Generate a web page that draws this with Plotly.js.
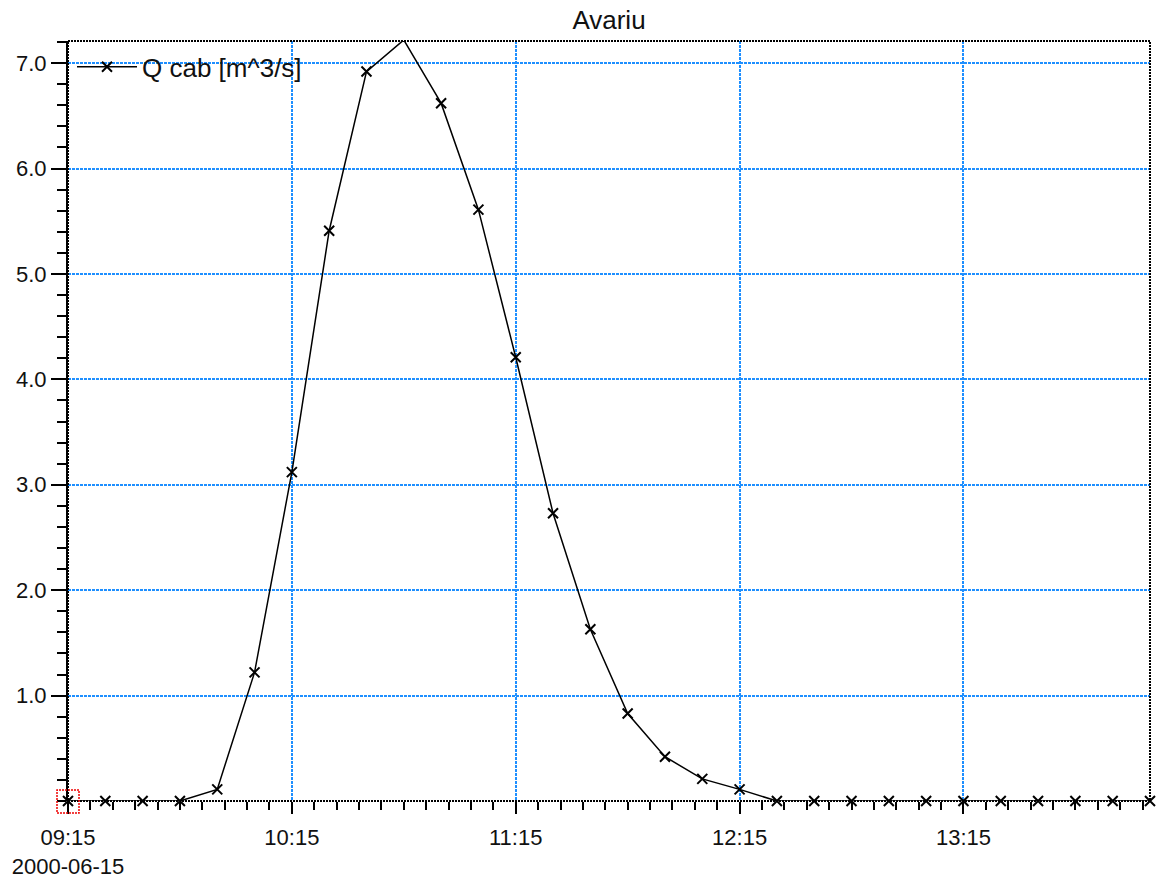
<!DOCTYPE html>
<html>
<head>
<meta charset="utf-8">
<script src="https://cdn.plot.ly/plotly-3.0.1.min.js"></script>
<style>html,body{margin:0;padding:0;background:#fff;}#chart{width:1156px;height:879px;}</style>
</head>
<body>
<div id="chart"></div>
<script>
const times = [
  "2000-06-15 09:15","2000-06-15 09:25","2000-06-15 09:35","2000-06-15 09:45","2000-06-15 09:55",
  "2000-06-15 10:05","2000-06-15 10:15","2000-06-15 10:25","2000-06-15 10:35","2000-06-15 10:45",
  "2000-06-15 10:55","2000-06-15 11:05","2000-06-15 11:15","2000-06-15 11:25","2000-06-15 11:35",
  "2000-06-15 11:45","2000-06-15 11:55","2000-06-15 12:05","2000-06-15 12:15","2000-06-15 12:25",
  "2000-06-15 12:35","2000-06-15 12:45","2000-06-15 12:55","2000-06-15 13:05","2000-06-15 13:15",
  "2000-06-15 13:25","2000-06-15 13:35","2000-06-15 13:45","2000-06-15 13:55","2000-06-15 14:05"
];
const qcab = [
  0, 0, 0, 0, 0.11,
  1.22, 3.12, 5.41, 6.92, 7.22,
  6.62, 5.61, 4.21, 2.73, 1.63,
  0.83, 0.42, 0.21, 0.11, 0,
  0, 0, 0, 0, 0,
  0, 0, 0, 0, 0
];
const xTickVals = ["2000-06-15 09:15","2000-06-15 10:15","2000-06-15 11:15","2000-06-15 12:15","2000-06-15 13:15"];
const xTickText = ["09:15<br>2000-06-15","10:15","11:15","12:15","13:15"];
const yTickVals = [1,2,3,4,5,6,7];
const yTickText = ["1.0","2.0","3.0","4.0","5.0","6.0","7.0"];
const seriesName = "Q cab [m^3/s]";
const chartTitle = "Avariu";

const trace = {
  x: times, y: qcab, type: "scatter", mode: "lines+markers", name: seriesName,
  line: {color: "#000", width: 1.5},
  marker: {symbol: "x-thin", size: 10, color: "#000", line: {color: "#000", width: 2}},
  cliponaxis: false
};

const gridBlue = "#1e8fff";
const layout = {
  width: 1156, height: 879,
  margin: {l: 68, r: 6, t: 41, b: 78},
  paper_bgcolor: "#fff", plot_bgcolor: "#fff",
  font: {family: "Liberation Sans, Arial, sans-serif", color: "#111", size: 22},
  title: {text: chartTitle, x: 0.5, xref: "paper", xanchor: "center", y: 0.977, yref: "container", yanchor: "middle",
          font: {size: 26, color: "#111"}},
  showlegend: true,
  legend: {x: 0.0037, y: 0.997, xanchor: "left", yanchor: "top", bgcolor: "rgba(0,0,0,0)",
           itemwidth: 60, font: {size: 26, color: "#111"}},
  xaxis: {
    type: "date", range: [times[0], times[times.length - 1]],
    tickmode: "array", tickvals: xTickVals, ticktext: xTickText,
    ticks: "outside", ticklen: 12, tickwidth: 2, tickcolor: "#000", ticklabelstandoff: 5,
    showgrid: true, gridcolor: gridBlue, griddash: "3px,1px", gridwidth: 2,
    minor: {tickmode: "linear", tick0: "2000-06-15 09:15", dtick: 360000, ticks: "outside", ticklen: 8, tickwidth: 2, tickcolor: "#000", showgrid: false},
    showline: false, zeroline: false, automargin: false, tickfont: {size: 22, color: "#111"}
  },
  yaxis: {
    range: [0, 7.21],
    tickmode: "array", tickvals: yTickVals, ticktext: yTickText,
    ticks: "outside", ticklen: 15, tickwidth: 2, tickcolor: "#000",
    showgrid: true, gridcolor: gridBlue, griddash: "3px,1px", gridwidth: 2,
    minor: {tickmode: "linear", tick0: 0, dtick: 0.2, ticks: "outside", ticklen: 9, tickwidth: 2, tickcolor: "#000", showgrid: false},
    showline: true, linecolor: "#000", linewidth: 2, mirror: false, zeroline: false, automargin: false,
    tickfont: {size: 22, color: "#111"}
  },
  shapes: [
    {type: "rect", xref: "paper", yref: "paper", x0: 0, x1: 1, y0: 0, y1: 1,
     line: {color: "#000", width: 2, dash: "2px,1px"}, layer: "above"},
    {type: "rect", xref: "paper", yref: "paper", xsizemode: "pixel", ysizemode: "pixel",
     xanchor: 0, yanchor: 0, x0: -11, x1: 11, y0: -12, y1: 11,
     line: {color: "#e00", width: 1.5, dash: "2px,1px"}, layer: "above"}
  ]
};

Plotly.newPlot("chart", [trace], layout, {displayModeBar: false, staticPlot: true});
</script>
</body>
</html>
